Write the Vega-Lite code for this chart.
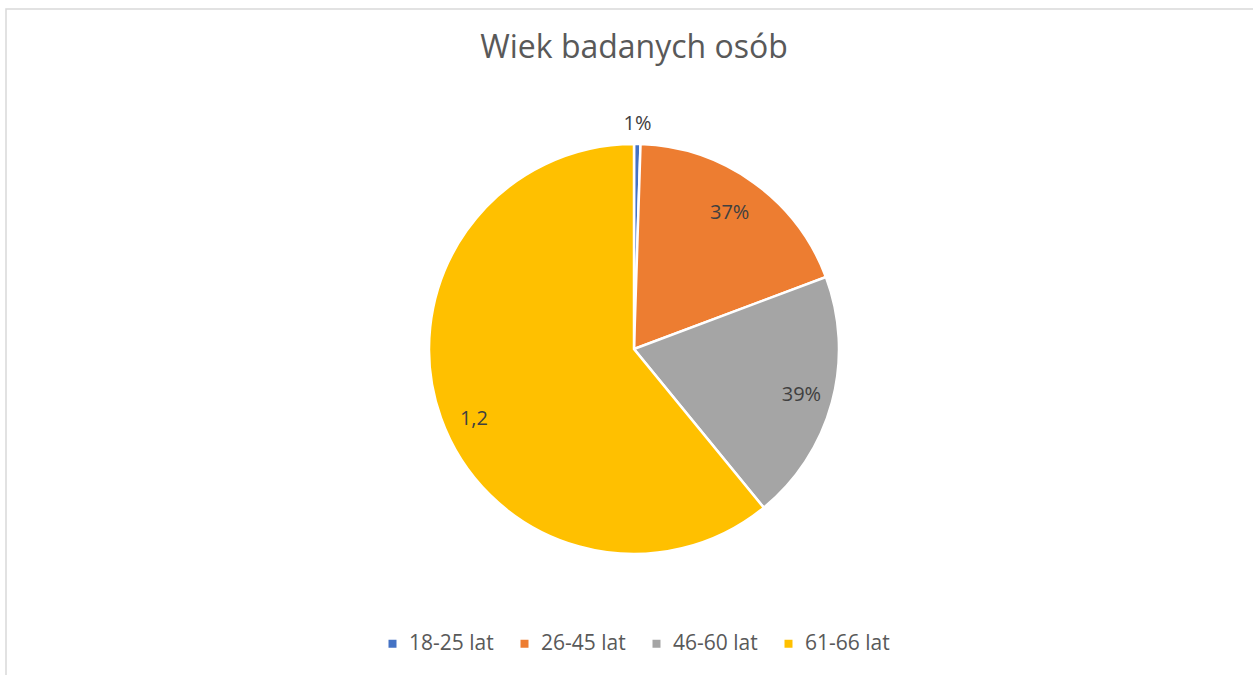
{
  "$schema": "https://vega.github.io/schema/vega-lite/v6.json",
  "autosize": {"type": "none"},
  "padding": {"left": 6, "top": 9, "right": 0, "bottom": 0},
  "width": 1256,
  "height": 680,
  "background": "white",
  "view": {"stroke": "#d9d9d9", "strokeWidth": 1.5, "fill": "white"},
  "title": {
    "text": "Wiek badanych osób",
    "font": "Open Sans",
    "fontSize": 32,
    "fontWeight": "normal",
    "color": "#595959",
    "anchor": "middle",
    "baseline": "alphabetic",
    "offset": -81
  },
  "config": {
    "font": "Open Sans"
  },
  "data": {
    "values": [
      {"wiek": "18-25 lat", "wartosc": 0.01, "etykieta": "1%", "kolejnosc": 1},
      {"wiek": "26-45 lat", "wartosc": 0.37, "etykieta": "37%", "kolejnosc": 2},
      {"wiek": "46-60 lat", "wartosc": 0.39, "etykieta": "39%", "kolejnosc": 3},
      {"wiek": "61-66 lat", "wartosc": 1.2, "etykieta": "1,2", "kolejnosc": 4}
    ]
  },
  "encoding": {
    "theta": {"field": "wartosc", "type": "quantitative", "stack": true},
    "order": {"field": "kolejnosc", "type": "quantitative"}
  },
  "layer": [
    {
      "mark": {"type": "arc", "radius": 205, "stroke": "white", "strokeWidth": 2.5},
      "encoding": {
        "color": {
          "field": "wiek",
          "type": "nominal",
          "scale": {
            "domain": ["18-25 lat", "26-45 lat", "46-60 lat", "61-66 lat"],
            "range": ["#4472C4", "#ED7D31", "#A5A5A5", "#FFC000"]
          },
          "legend": {
            "title": null,
            "orient": "none",
            "direction": "horizontal",
            "legendX": 376,
            "legendY": 624,
            "symbolType": "square",
            "symbolSize": 64,
            "symbolStrokeWidth": 0,
            "labelFont": "Open Sans",
            "labelFontSize": 21,
            "labelColor": "#595959",
            "labelOffset": 6,
            "columnPadding": 20
          }
        }
      }
    },
    {
      "transform": [{"filter": "datum.kolejnosc == 1"}],
      "mark": {"type": "text", "radius": 226, "dy": 1, "font": "Open Sans", "fontSize": 20, "color": "#404040"},
      "encoding": {"text": {"field": "etykieta"}}
    },
    {
      "transform": [{"filter": "datum.kolejnosc > 1"}],
      "mark": {"type": "text", "radius": 172, "dy": 7, "font": "Open Sans", "fontSize": 20, "color": "#404040"},
      "encoding": {"text": {"field": "etykieta"}}
    }
  ]
}
